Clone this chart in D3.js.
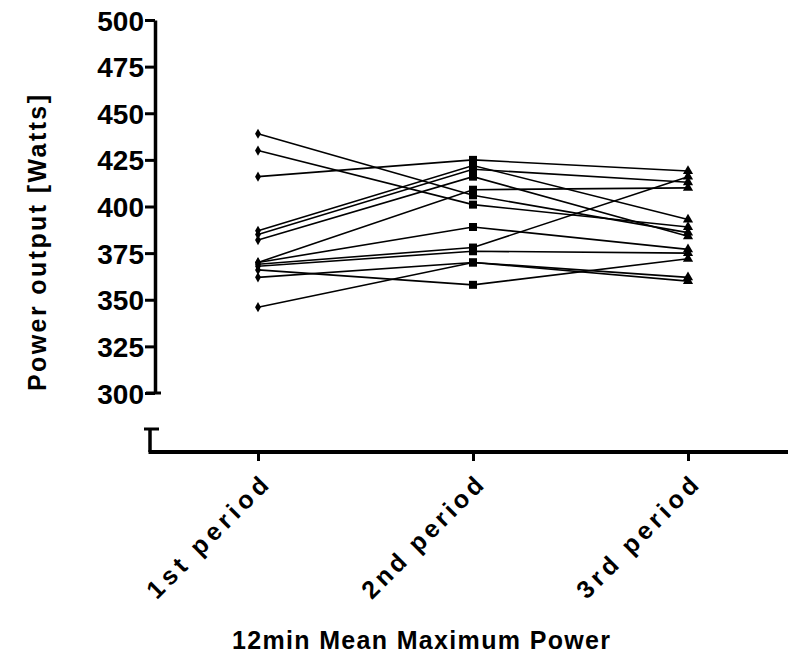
<!DOCTYPE html>
<html>
<head>
<meta charset="UTF-8">
<script src="https://d3js.org/d3.v7.min.js"></script>
<style>
  body { margin: 0; background: #fff; }
  text { font-family: 'Liberation Sans', Arial, sans-serif; font-weight: bold; fill: #000; }
</style>
</head>
<body>
<svg id="chart" width="788" height="664"></svg>
<script>
// chart data
var periods = ["1st period", "2nd period", "3rd period"];
var yTicks = [300, 325, 350, 375, 400, 425, 450, 475, 500];
var first  = [439, 430, 416, 387, 385, 382, 370, 370, 369, 368, 366, 362, 346];
var second = [406, 401, 425, 422, 420, 416, 409, 389, 378, 376, 358, 370, 370];
var third  = [386, 389, 419, 393, 413, 384, 410, 377, 416, 375, 372, 362, 360];
var yTitle = "Power output [Watts]";
var xTitle = "12min Mean Maximum Power";

var svg = d3.select("#chart");
var axisX = 155, floorY = 452;

var x = d3.scalePoint().domain(periods).range([258, 688]);
var y = d3.scaleLinear().domain([300, 500]).range([393, 20]);

// y axis
var yAxis = svg.append("g")
    .attr("transform", "translate(" + axisX + ",0)")
    .call(d3.axisLeft(y).tickValues(yTicks).tickSize(10).tickSizeOuter(0).tickPadding(1));
yAxis.select(".domain").attr("stroke-width", 3.5);
yAxis.selectAll(".tick line").attr("stroke-width", 3);
yAxis.selectAll(".tick text").style("font-size", "28px").attr("dy", "0.36em");

// cap at the bottom of the upper axis piece
svg.append("line").attr("x1", axisX - 9).attr("x2", axisX + 6)
    .attr("y1", y(300)).attr("y2", y(300)).attr("stroke", "#000").attr("stroke-width", 3);

// lower broken piece + x axis
svg.append("line").attr("x1", axisX - 11).attr("x2", axisX + 4)
    .attr("y1", 429).attr("y2", 429).attr("stroke", "#000").attr("stroke-width", 3);
svg.append("line").attr("x1", axisX - 5).attr("x2", axisX - 5)
    .attr("y1", 428).attr("y2", floorY).attr("stroke", "#000").attr("stroke-width", 3.5);

var xAxis = svg.append("g")
    .attr("transform", "translate(0," + floorY + ")")
    .call(d3.axisBottom(x).tickSize(9).tickSizeOuter(0).tickFormat(""));
xAxis.select(".domain").remove();
xAxis.selectAll(".tick line").attr("stroke-width", 3);
svg.append("line").attr("x1", axisX - 6.5).attr("x2", 788)
    .attr("y1", floorY).attr("y2", floorY).attr("stroke", "#000").attr("stroke-width", 4);

// rotated period labels
svg.selectAll(".plabel")
    .data(periods)
    .enter()
    .append("text")
    .attr("class", "plabel")
    .attr("text-anchor", "end")
    .attr("transform", function (d) { return "translate(" + (x(d) + 12) + ",487) rotate(-45)"; })
    .style("font-size", "25px")
    .attr("textLength", 160)
    .attr("lengthAdjust", "spacing")
    .text(function (d) { return d; });

// axis titles
svg.append("text")
    .attr("transform", "translate(46,243) rotate(-90)")
    .attr("text-anchor", "middle")
    .style("font-size", "25px")
    .attr("textLength", 296)
    .attr("lengthAdjust", "spacing")
    .text(yTitle);

svg.append("text")
    .attr("x", 421).attr("y", 649)
    .attr("text-anchor", "middle")
    .style("font-size", "25px")
    .attr("textLength", 378)
    .attr("lengthAdjust", "spacing")
    .text(xTitle);

// one line per subject
var rows = first.map(function (v, i) { return [v, second[i], third[i]]; });
var line = d3.line()
    .x(function (d, i) { return x(periods[i]); })
    .y(function (d) { return y(d); });

svg.append("g").selectAll("path")
    .data(rows)
    .enter()
    .append("path")
    .attr("d", line)
    .attr("fill", "none")
    .attr("stroke", "#000")
    .attr("stroke-width", 1.6);

// markers, a different symbol per period
var shapes = [d3.symbolDiamond, d3.symbolSquare, d3.symbolTriangle];
var sizes = [30, 64, 45];
[first, second, third].forEach(function (vals, j) {
    svg.append("g").selectAll("path")
        .data(vals)
        .enter()
        .append("path")
        .attr("transform", function (d) { return "translate(" + x(periods[j]) + "," + y(d) + ")"; })
        .attr("d", d3.symbol().type(shapes[j]).size(sizes[j]))
        .attr("fill", "#000");
});
</script>
</body>
</html>
